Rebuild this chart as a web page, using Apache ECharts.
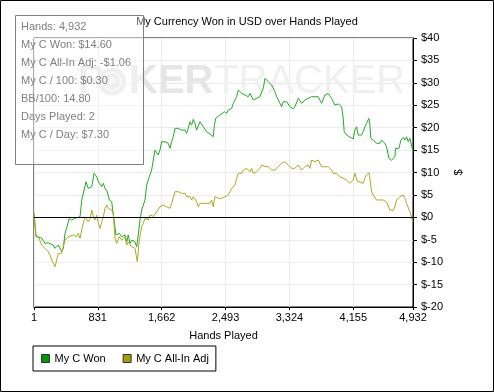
<!DOCTYPE html>
<html><head><meta charset="utf-8">
<script src="https://cdn.jsdelivr.net/npm/echarts@6/dist/echarts.min.js"></script>
<style>html,body{margin:0;padding:0;background:#fff}#c{width:494px;height:392px}</style>
</head><body><div id="c"></div>
<script>
const titleText = 'My Currency Won in USD over Hands Played';
const xAxisName = 'Hands Played';
const yAxisName = '$';
const seriesNames = ['My C Won', 'My C All-In Adj'];
const xTicks = [1, 831, 1662, 2493, 3324, 4155, 4932];
const yMin = -20, yMax = 40, yStep = 5;
const statLines = ['Hands: 4,932', 'My C Won: $14.60', 'My C All-In Adj: -$1.06', 'My C / 100: $0.30', 'BB/100: 14.80', 'Days Played: 2', 'My C / Day: $7.30'];

const wonPoints = [[1,0.89],[27,-4.33],[57,-4.4],[101,-4.68],[122,-5.06],[144,-5.8],[187,-5.7],[209,-5.44],[252,-6.18],[274,-6.92],[317,-6.18],[361,-7.67],[382,-6.92],[404,-3.57],[426,-2.45],[460,-0.22],[491,-0.6],[534,-0.22],[557,-0.6],[600,0.13],[622,3.86],[642,4.24],[678,7.94],[707,6.47],[730,6.09],[752,6.83],[782,9.81],[817,9.06],[838,7.94],[860,7.58],[882,6.83],[903,7.58],[925,6.47],[955,5.71],[981,3.86],[1012,3.48],[1025,1.63],[1042,-0.6],[1068,-3.95],[1085,-4.33],[1111,-3.57],[1142,-4.33],[1185,-3.95],[1207,-5.44],[1228,-3.95],[1250,-5.8],[1272,-5.06],[1315,-5.44],[1337,-6.56],[1358,-3.95],[1380,-0.6],[1402,1.63],[1445,3.86],[1467,7.2],[1501,9.06],[1532,10.55],[1553,12.78],[1575,15.01],[1597,14.63],[1618,13.9],[1640,15.01],[1662,16.86],[1683,17.24],[1705,16.86],[1727,16.7],[1748,16.51],[1770,15.39],[1792,16.86],[1813,17.98],[1835,19.85],[1857,20.21],[1878,19.85],[1900,19.7],[1922,19.47],[1943,19.09],[1965,19.47],[1987,18.74],[2008,19.85],[2030,21.32],[2052,20.59],[2073,21.86],[2095,20.97],[2117,19.47],[2138,19.85],[2160,21.32],[2182,20.97],[2203,20.21],[2225,20.59],[2247,19.09],[2268,18.74],[2290,18.6],[2312,18.36],[2333,17.98],[2346,20.21],[2364,22.08],[2390,22.44],[2421,22.82],[2443,23.2],[2477,23.56],[2508,23.2],[2529,23.93],[2551,23.56],[2573,24.31],[2594,25.43],[2616,26.17],[2638,26.9],[2659,28.4],[2681,28.02],[2703,27.66],[2724,28.02],[2746,27.28],[2768,27.66],[2789,26.9],[2811,27.66],[2833,27.28],[2854,26.17],[2876,25.79],[2898,26.54],[2919,26.17],[2941,26.9],[2963,28.02],[2984,28.77],[3006,31.01],[3028,30.63],[3049,30.25],[3071,29.89],[3093,29.51],[3114,29.13],[3136,28.02],[3158,26.9],[3179,27.28],[3201,25.43],[3223,24.67],[3244,25.79],[3266,25.43],[3288,25.79],[3309,25.43],[3331,24.67],[3353,24.31],[3374,24.2],[3396,24.67],[3418,25.05],[3439,26.54],[3461,26.17],[3483,25.43],[3504,25.79],[3526,26.17],[3548,25.79],[3569,26.54],[3591,26.17],[3613,26.9],[3634,27.28],[3656,26.9],[3678,27.28],[3699,26.9],[3721,27.28],[3743,25.43],[3764,25.3],[3786,27.28],[3808,27.66],[3829,27.6],[3851,27.28],[3873,26.54],[3894,25.79],[3916,25.05],[3938,25.43],[3959,25.3],[3981,25.05],[4003,24.67],[4024,22.08],[4037,19.09],[4068,18.36],[4089,17.98],[4111,17.9],[4133,17.62],[4154,17.5],[4176,19.47],[4198,20.21],[4219,18.36],[4241,17.98],[4263,18.36],[4284,19.09],[4306,20.21],[4328,20.97],[4358,22.08],[4371,20.59],[4384,17.62],[4414,17.24],[4436,16.86],[4458,16.51],[4479,16.86],[4501,16.51],[4523,17.24],[4544,16.86],[4566,16.51],[4588,15.75],[4609,15.75],[4618,13.16],[4631,12.78],[4653,12.7],[4674,12.63],[4696,13.52],[4706,15.39],[4732,15.01],[4749,15.39],[4775,17.24],[4805,17.85],[4827,17.24],[4849,17.98],[4870,16.86],[4892,17.62],[4914,17.24],[4932,14.6]];

const adjPoints = [[1,0.89],[27,-3.95],[57,-4.33],[101,-6.18],[144,-6.92],[166,-6.56],[187,-7.67],[209,-8.41],[231,-9.52],[252,-10.26],[274,-11.02],[296,-9.52],[317,-8.03],[339,-7.67],[361,-8.03],[382,-7.67],[404,-5.06],[426,-5.44],[447,-4.33],[469,-4.68],[512,-3.95],[557,-4.33],[577,-3.57],[600,-4.68],[622,-2.83],[642,-1.34],[665,0.13],[687,0.51],[707,-0.98],[730,-0.22],[752,1.63],[773,0.13],[795,-0.6],[817,0.51],[838,-1.34],[860,-2.45],[882,-0.98],[903,0.13],[925,2.01],[947,2.74],[968,2.01],[990,2.36],[1012,1.63],[1033,0.89],[1055,-4.68],[1077,-5.8],[1111,-4.33],[1142,-5.06],[1185,-4.33],[1207,-6.18],[1228,-5.44],[1272,-6.56],[1315,-6.92],[1345,-9.9],[1371,-5.06],[1402,-2.1],[1423,-1.34],[1445,-0.22],[1467,-0.3],[1488,-0.6],[1510,0.51],[1532,0.13],[1553,0.2],[1575,0.51],[1597,1.25],[1618,0.89],[1640,2.36],[1662,2.01],[1683,2.74],[1705,2.7],[1727,2.36],[1748,2.74],[1770,2.01],[1792,3.12],[1813,3.48],[1835,5.71],[1857,6.09],[1878,5.71],[1900,5.6],[1922,5.35],[1943,4.97],[1965,5.35],[1987,4.6],[2008,4.24],[2030,4.6],[2052,3.86],[2073,4.6],[2095,4.24],[2117,3.48],[2138,2.36],[2160,3.12],[2182,3.48],[2203,3.12],[2225,3.48],[2247,3.12],[2268,3.48],[2290,3.12],[2312,3.86],[2333,2.36],[2355,4.6],[2378,4.5],[2399,4.24],[2421,3.86],[2443,4.24],[2464,3.86],[2486,4.6],[2508,4.7],[2529,4.97],[2551,5.71],[2573,6.47],[2594,6.83],[2616,7.2],[2638,8.7],[2659,9.81],[2681,10.17],[2703,9.81],[2724,10.55],[2746,10.5],[2768,10.93],[2789,10.55],[2811,10.17],[2833,10.93],[2854,9.81],[2876,9.43],[2898,10.17],[2919,10.55],[2941,10.93],[2963,11.67],[2984,11.29],[3006,11.3],[3028,10.93],[3049,11.29],[3071,10.93],[3093,10.55],[3114,10.93],[3136,10.55],[3158,10.93],[3179,11.29],[3201,11.2],[3223,12.05],[3244,11.67],[3266,12.4],[3288,12.05],[3309,11.67],[3331,11.29],[3353,10.93],[3374,10.55],[3396,10.93],[3418,10.55],[3439,11.67],[3461,11.29],[3483,10.55],[3504,10.93],[3526,11.29],[3548,10.93],[3569,11.67],[3591,10.93],[3613,12.78],[3634,12.7],[3656,12.4],[3678,12.05],[3699,12.78],[3721,12.94],[3743,11.29],[3764,11.67],[3786,11.29],[3808,11.67],[3829,11.29],[3851,10.93],[3873,10.55],[3894,9.81],[3916,9.43],[3938,9.81],[3959,9.43],[3981,9.06],[4003,9.0],[4024,8.7],[4046,8.6],[4068,8.32],[4089,7.94],[4111,7.58],[4133,7.5],[4154,8.32],[4176,9.81],[4198,9.9],[4211,7.94],[4241,7.9],[4263,7.58],[4284,7.6],[4306,8.7],[4328,9.43],[4358,9.95],[4371,8.7],[4393,5.71],[4414,4.97],[4436,4.9],[4458,3.86],[4479,4.24],[4501,3.86],[4523,3.48],[4544,3.86],[4566,3.48],[4588,3.4],[4609,3.5],[4631,1.63],[4653,1.47],[4674,1.5],[4696,2.36],[4719,3.86],[4740,3.9],[4762,4.6],[4784,4.7],[4805,4.97],[4827,4.24],[4849,3.12],[4870,2.74],[4892,1.25],[4914,0.89],[4932,-1.06]];

const FONT = '"Liberation Sans", Arial, sans-serif';
const NARROW = '"Liberation Sans Narrow", "Liberation Sans", Arial, sans-serif';

const chart = echarts.init(document.getElementById('c'), null, {renderer: 'canvas'});

const graphics = [
  {type: 'rect', z: 100, silent: true, shape: {x: 0.5, y: 0.5, width: 493, height: 391}, style: {fill: 'none', stroke: '#000', lineWidth: 1}},
  // watermark
  {type: 'text', z: 1, silent: true, x: 78, y: 82, style: {text: 'P', font: 'bold 40px ' + NARROW, fill: '#e6e6e6', verticalAlign: 'middle'}},
  {type: 'circle', z: 1, silent: true, shape: {cx: 112, cy: 81.5, r: 14}, style: {fill: '#e6e6e6'}},
  {type: 'circle', z: 1, silent: true, shape: {cx: 112, cy: 81.5, r: 9}, style: {fill: 'none', stroke: '#f5f5f5', lineWidth: 1.5}},
  {type: 'text', z: 1, silent: true, x: 112, y: 82, style: {text: '\u2660', font: '12px "DejaVu Sans", sans-serif', fill: '#f5f5f5', align: 'center', verticalAlign: 'middle'}},
  {type: 'text', z: 1, silent: true, x: 129, y: 82, style: {text: 'KER', font: 'bold 40px ' + NARROW, fill: '#e6e6e6', verticalAlign: 'middle'}},
  {type: 'text', z: 1, silent: true, x: 214, y: 82, style: {text: 'TRACKER', font: '40px ' + NARROW, fill: '#f0f0f0', verticalAlign: 'middle'}},
  // stats box
  {type: 'rect', z: 100, silent: true, shape: {x: 15.5, y: 15.5, width: 128, height: 149}, style: {fill: 'rgba(255,255,255,0.35)', stroke: '#808080', lineWidth: 1}}
];
statLines.forEach((t, i) => {
  graphics.push({type: 'text', z: 101, silent: true, x: 21, y: 27 + 18 * i, style: {text: t, font: '11px ' + FONT, fill: '#808080', verticalAlign: 'middle'}});
});

chart.setOption({
  animation: false,
  backgroundColor: '#fff',
  title: {text: titleText, left: 'center', top: 16, padding: 0, textStyle: {fontSize: 11, fontWeight: 'normal', color: '#000', fontFamily: FONT}},
  grid: {left: 34, top: 38, width: 379, height: 269, show: true, borderColor: '#000', borderWidth: 1, backgroundColor: 'transparent'},
  legend: {
    left: 33, top: 346, orient: 'horizontal', icon: 'rect', itemWidth: 8, itemHeight: 8, itemGap: 17,
    padding: [7, 7, 7, 8], borderColor: '#000', borderWidth: 1,
    itemStyle: {borderColor: '#333', borderWidth: 1},
    textStyle: {fontSize: 11, color: '#000', fontFamily: FONT},
    data: [{name: seriesNames[0], itemStyle: {color: '#009900'}}, {name: seriesNames[1], itemStyle: {color: '#a0a000'}}]
  },
  xAxis: {
    type: 'value', min: xTicks[0], max: xTicks[xTicks.length - 1],
    name: xAxisName, nameLocation: 'middle', nameGap: 23,
    nameTextStyle: {color: '#000', fontSize: 11, fontFamily: FONT},
    axisLine: {show: true, onZero: false, lineStyle: {color: '#000'}},
    axisTick: {show: true, length: 3, customValues: xTicks, lineStyle: {color: '#000'}},
    axisLabel: {customValues: xTicks, color: '#000', fontSize: 11, fontFamily: FONT, margin: 5, formatter: v => Number(v).toLocaleString('en-US')},
    splitLine: {show: true, lineStyle: {color: '#ebebeb', width: 1}}
  },
  yAxis: {
    type: 'value', position: 'right', min: yMin, max: yMax, interval: yStep,
    name: yAxisName, nameLocation: 'middle', nameGap: 40,
    nameTextStyle: {color: '#000', fontSize: 11, fontFamily: FONT},
    axisLine: {show: true, lineStyle: {color: '#000'}},
    axisTick: {show: true, length: 4, lineStyle: {color: '#000'}},
    axisLabel: {color: '#000', fontSize: 11, fontFamily: FONT, margin: 8, formatter: v => '$' + v},
    splitLine: {show: true, lineStyle: {color: '#ebebeb', width: 1}}
  },
  graphic: {elements: graphics},
  series: [
    {
      name: seriesNames[0], type: 'line', data: wonPoints, showSymbol: false, symbol: 'none', z: 3,
      lineStyle: {width: 1, color: '#22aa22'}, itemStyle: {color: '#009900'},
      markLine: {silent: true, symbol: 'none', label: {show: false}, lineStyle: {color: '#000', width: 1, type: 'solid'}, data: [{yAxis: 0}]}
    },
    {
      name: seriesNames[1], type: 'line', data: adjPoints, showSymbol: false, symbol: 'none', z: 3,
      lineStyle: {width: 1, color: '#aaaa22'}, itemStyle: {color: '#a0a000'}
    }
  ]
});
</script></body></html>
